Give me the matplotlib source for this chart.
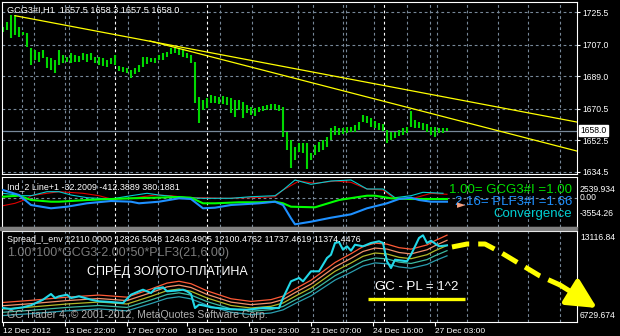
import matplotlib
matplotlib.use("Agg")
import matplotlib.pyplot as plt
import matplotlib.transforms as mtransforms
from matplotlib.patches import Rectangle

# ---------------- data ----------------
title_main = "GCG3#I,H1  1657.5 1658.3 1657.5 1658.0"
price_high = [1717.0, 1719.8, 1723.8, 1723.8, 1717.0, 1714.1, 1713.6, 1705.0, 1703.9, 1702.7,
              1703.9, 1699.9, 1699.3, 1698.2, 1703.9, 1701.0, 1699.9, 1702.2, 1701.0, 1700.5,
              1702.2, 1701.6, 1702.2, 1699.9, 1699.9, 1699.3, 1698.2, 1699.3, 1701.0, 1694.8,
              1694.2, 1693.7, 1692.5, 1693.7, 1695.4, 1699.9, 1699.9, 1699.3, 1699.3, 1701.0,
              1702.2, 1702.7, 1705.0, 1705.0, 1705.0, 1703.9, 1702.2, 1701.0, 1697.1, 1677.2,
              1675.5, 1676.6, 1678.3, 1677.7, 1677.2, 1677.7, 1677.2, 1676.6, 1675.5, 1675.5,
              1674.3, 1672.6, 1671.5, 1670.9, 1671.5, 1672.0, 1672.6, 1673.2, 1673.2, 1672.6,
              1671.5, 1657.3, 1652.6, 1648.7, 1651.0, 1651.0, 1651.0, 1645.3, 1649.9, 1651.5,
              1652.6, 1654.4, 1659.5, 1660.7, 1659.5, 1659.5, 1660.1, 1660.1, 1661.2, 1662.9,
              1666.9, 1666.3, 1665.2, 1663.5, 1662.4, 1661.8, 1658.4, 1657.3, 1657.3, 1658.4,
              1659.5, 1660.1, 1669.2, 1664.1, 1662.9, 1662.4, 1661.8, 1660.1, 1660.1, 1659.5,
              1659.5, 1659.5]
price_low = [1714.1, 1715.3, 1710.7, 1712.4, 1711.3, 1712.4, 1705.6, 1695.4, 1698.2, 1697.1,
             1699.3, 1693.7, 1692.5, 1690.8, 1695.4, 1696.5, 1697.1, 1696.5, 1697.1, 1697.1,
             1698.2, 1697.1, 1698.2, 1696.5, 1695.4, 1694.8, 1694.2, 1695.9, 1695.4, 1691.9,
             1691.4, 1690.8, 1688.0, 1690.2, 1691.4, 1694.2, 1695.9, 1697.1, 1696.5, 1698.2,
             1698.2, 1699.9, 1701.6, 1702.2, 1701.0, 1699.9, 1699.3, 1696.5, 1673.7, 1662.4,
             1669.8, 1670.9, 1673.7, 1673.7, 1673.2, 1673.2, 1672.6, 1668.1, 1665.8, 1669.8,
             1665.2, 1668.1, 1666.9, 1666.3, 1668.6, 1669.2, 1669.8, 1670.3, 1669.8, 1669.2,
             1654.4, 1647.0, 1636.8, 1641.3, 1645.9, 1645.3, 1636.2, 1641.3, 1644.2, 1645.9,
             1647.0, 1648.7, 1652.6, 1655.5, 1655.5, 1656.1, 1656.7, 1657.3, 1657.3, 1658.4,
             1662.9, 1662.4, 1660.1, 1659.5, 1658.4, 1657.8, 1651.0, 1652.6, 1653.8, 1655.0,
             1655.5, 1656.7, 1660.1, 1659.5, 1659.5, 1658.4, 1657.3, 1655.5, 1654.4, 1656.7,
             1656.7, 1657.8]
price_ticks = [1725.5, 1707.0, 1689.0, 1670.5, 1652.5, 1634.5]
last_price = 1658.0

trend1_x = [3, 143.5]
trend1_y = [1723.4, 1662.9]
trend2_x = [36.75, 143.5]
trend2_y = [1709.0, 1646.4]

ind_header = "Ind_2 Line+1 -32.2009 -412.3889 380.1881"
ind_green_x = [0, 4, 7, 12, 14, 21, 27, 32, 38, 44, 47, 50, 53, 59, 64, 68, 70, 72, 78, 84, 91, 93, 97, 102, 107, 111]
ind_green_y = [214, 338, -196, -408, -408, -196, -72, 15, 90, 177, 90, -607, -607, -482, -482, -408, -607,
               -1030, -1104, -196, 338, 338, 15, -72, -72, -72]
ind_blue_x = [0, 4, 7, 12, 16, 21, 27, 32, 34, 39, 44, 47, 50, 53, 57, 64, 68, 70, 72, 73, 77, 82, 87, 91, 96, 99, 102, 104, 107, 111]
ind_blue_y = [1047, 425, -818, -1229, -1030, -607, -321, -408, -607, -408, 15, -72, -1229, -1154, -818,
              -607, -408, -818, -2473, -3219, -2896, -2398, -1975, -1229, -607, -72, 90, -196, -408, -408]
ind_red_x = [0, 3, 6, 7, 11, 14, 20, 24, 27, 32, 38, 42, 46, 50, 56, 62, 68, 70, 74, 78, 83, 87, 91, 95, 98, 102, 107, 111]
ind_red_y = [-905, -607, -72, 338, 637, 836, 637, 338, -72, 15, 425, 338, 90, 90, 15, 90, 214, 1047,
             2167, 1881, 2167, 2005, 1172, 1047, -72, -72, 637, 513]
ind_cyan_x = [0, 5, 7, 11, 14, 17, 21, 27, 32, 36, 39, 43, 46, 50, 57, 62, 68, 70, 73, 77, 82, 87, 91, 95, 98, 102, 105, 110]
ind_cyan_y = [637, 338, 338, 836, 836, 425, 90, -72, 338, 637, 425, 214, 90, 15, 15, 214, 338, 1047,
              2291, 1756, 2167, 2291, 1172, 1172, 90, 338, 761, 637]
ind_max, ind_min = 2539.934, -3554.26

spread_header = ("Spread_I_env 12110.0000 12826.5048 12463.4905 12100.4762 "
                 "11737.4619 11374.4476")
spread_formula = "1.00*100*GCG3-2.00*50*PLF3(21,6.00)"
spread_x = [0, 2, 5, 7, 10, 12, 13, 14, 16, 17, 19, 22, 24, 27, 30, 32, 34, 35, 37, 38, 40, 41, 43, 45,
            46, 47, 48, 49, 50, 52, 57, 61, 65, 69, 70, 72, 74, 75, 77, 79, 81, 82, 83, 84, 85, 86, 87,
            88, 90, 92, 94, 95, 96, 97, 98, 101, 102, 104, 105, 106, 107, 109, 111]
spread_y = [7712, 7642, 7761, 7902, 8295, 8695, 8414, 8533, 8646, 8414, 8533, 8295, 8182, 8133, 8063,
            8646, 8884, 8997, 8765, 9067, 9165, 8884, 8927, 8997, 8884, 8695, 7712, 7944, 7902, 7761,
            7620, 7593, 7712, 7712, 8414, 9586, 9818, 9586, 10288, 10288, 11222, 11453, 12275, 12345,
            11804, 12043, 11734, 12155, 12043, 12275, 12394, 12275, 10990, 10520, 11102, 10990, 11453,
            12625, 12815, 12275, 12436, 12043, 12110]
env_mid_x = [0, 7, 16, 24, 31, 37, 41, 44, 47, 51, 57, 62, 67, 70, 73, 77, 80, 83, 87, 90, 93, 96, 99,
             102, 106, 108, 111]
env_mid_y = [7642, 7782, 7993, 8133, 7993, 8533, 8927, 9046, 8884, 8414, 7888, 7712, 7831, 8063, 8533,
             9116, 9699, 10288, 10871, 11341, 11573, 11503, 11271, 11173, 11453, 11734, 12100]
env_pct = [6, 3, 0, -3, -6]
spread_min, spread_max = 6729.674, 13116.84
forecast_x = [112.25, 116, 120.5, 124.25, 129.25, 134.25, 139.25]
forecast_y = [11994, 12204, 12204, 11643, 10800, 9958, 9327]
forecast_end = (148.5, 7712)

date_pos = [0, 15.5, 31, 46, 61.5, 77, 92.5, 108]
date_labels = ["12 Dec 2012", "13 Dec 22:00", "17 Dec 07:00", "18 Dec 15:00",
               "19 Dec 23:00", "21 Dec 07:00", "24 Dec 16:00", "27 Dec 03:00"]
grid_gray = [4.75, 7.75, 15.5, 16.5, 23.5, 31.25, 38.75, 54.25, 62.25, 73.75, 77.5, 85, 85.75,
             92.75, 101, 106.75, 108.5, 116, 123.75, 131.25, 139.25]
grid_white = [28, 51, 95.25]

# ---------------- figure ----------------
W, H = 620, 336
FONT = ["Liberation Sans", "DejaVu Sans"]
plt.rcParams["font.family"] = FONT
fig = plt.figure(figsize=(W / 100, H / 100), dpi=100, facecolor="black")


def box(x0, y0, x1, y1):
    return [x0 / W, 1 - y1 / H, (x1 - x0) / W, (y1 - y0) / H]


def ftext(x, y, s, **kw):
    kw.setdefault("va", "center")
    kw.setdefault("ha", "left")
    fig.text(x / W, 1 - y / H, s, **kw)


GRIDC = "#778899"
XLIM = (-0.25, 143.5)

ax_m = fig.add_axes(box(2, 2, 577, 174))
ax_i = fig.add_axes(box(2, 177, 577, 227))
ax_s = fig.add_axes(box(2, 231, 577, 322))

for ax in (ax_m, ax_i, ax_s):
    ax.set_facecolor("black")
    ax.set_xlim(*XLIM)
    for sp in ax.spines.values():
        sp.set_color("white")
        sp.set_linewidth(0.8)
    ax.tick_params(left=False, labelleft=False, bottom=False, labelbottom=False)
    for v in grid_gray:
        ax.axvline(v, color=GRIDC, lw=0.8, ls=(0, (2.5, 2.5)), zorder=0)
    for v in grid_white:
        ax.axvline(v, color="white", lw=0.8, ls=(0, (2.5, 2.5)), zorder=0)

# main price panel
ax_m.set_ylim(1633.36, 1731.19)
for t in price_ticks:
    ax_m.axhline(t, color=GRIDC, lw=0.8, ls=(0, (2.5, 2.5)), zorder=0)
ax_m.axhline(last_price, color=GRIDC, lw=0.9, zorder=1)
ax_m.vlines(range(len(price_high)), price_low, price_high, color="#00d800", lw=1.5, zorder=2)
ax_m.plot(trend1_x, trend1_y, color="#ffff00", lw=0.9, zorder=3)
ax_m.plot(trend2_x, trend2_y, color="#ffff00", lw=0.9, zorder=3)
ax_m.yaxis.tick_right()
ax_m.set_yticks(price_ticks)
ax_m.set_yticklabels([f"{t:.1f}" for t in price_ticks])
ax_m.tick_params(axis="y", right=True, labelright=True, direction="out", length=2.5,
                 color="white", labelcolor="white", labelsize=6.2, pad=1.5)
trans = mtransforms.blended_transform_factory(ax_m.transAxes, ax_m.transData)
ax_m.text(1.006, last_price, f"{last_price:.1f}", transform=trans, va="center", ha="left",
          fontsize=6.2, color="black", zorder=5,
          bbox=dict(boxstyle="square,pad=0.15", fc="white", ec="white"))
ftext(7, 10, title_main, color="white", fontsize=6.6)

# indicator panel
ind_top = ind_max + (ind_max - ind_min) / 49.0
ax_i.set_ylim(ind_min, ind_top)
ax_i.axhline(0, color=GRIDC, lw=0.8, ls=(0, (2.5, 2.5)), zorder=0)
ax_i.plot(ind_red_x, ind_red_y, color="#e00000", lw=0.8, zorder=2)
ax_i.plot(ind_cyan_x, ind_cyan_y, color="#00ced1", lw=0.8, zorder=2)
ax_i.plot(ind_green_x, ind_green_y, color="#00ff00", lw=1.5, zorder=3)
ax_i.plot(ind_blue_x, ind_blue_y, color="#1e90ff", lw=1.5, zorder=3)
ftext(7, 187, ind_header, color="white", fontsize=6.4)
ftext(572, 190, "1.00= GCG3#I =1.00", ha="right", color="#00e000", fontsize=9.5)
ftext(572, 202, "2.16= PLF3#I =1.66", ha="right", color="#1e90ff", fontsize=9.5)
ftext(572, 214, "Convergence", ha="right", color="#00ced1", fontsize=9.5)
ftext(457, 205, "\u25ba", color="#f4a080", fontsize=8, family="DejaVu Sans")
ftext(580, 190, f"{ind_max:.3f}", color="white", fontsize=6.2)
ftext(580, 198, "0.00", color="white", fontsize=6.2)
ftext(580, 214, f"{ind_min:.2f}", color="white", fontsize=6.2)

# separator between indicator and spread windows
fig.patches.append(Rectangle((0, 1 - 230 / H), 577 / W, 3 / H, transform=fig.transFigure,
                             color="#808080", zorder=5))

# spread panel
ax_s.set_ylim(spread_min, spread_max)
env_colors = ["#ff5a36", "#f0906a", "#b0b828", "#3cb8a0", "#2a9eb0"]
for p, c in zip(env_pct, env_colors):
    ax_s.plot(env_mid_x, [m * (1 + p / 100.0) for m in env_mid_y], color=c, lw=0.9, zorder=2)
ax_s.plot(spread_x, spread_y, color="#22d8e8", lw=1.5, zorder=3)
ax_s.plot(forecast_x, forecast_y, color="#ffff00", lw=3.6, ls=(0, (3.5, 1.8)),
          solid_capstyle="butt", clip_on=False, zorder=4)
ax_s.annotate("", xy=forecast_end, xytext=(forecast_x[-1], forecast_y[-1]),
              arrowprops=dict(arrowstyle="-|>,head_length=1.0,head_width=0.5", color="#ffff00",
                              lw=3.6, mutation_scale=18, shrinkA=0, shrinkB=0),
              annotation_clip=False, zorder=4)
ax_s.set_xticks(date_pos)
ax_s.set_xticklabels(date_labels, ha="left")
ax_s.tick_params(axis="x", bottom=True, labelbottom=True, direction="out", length=3,
                 color="white", labelcolor="white", labelsize=6, pad=1)
ftext(7, 240, spread_header, color="white", fontsize=6.4)
ftext(7, 253, spread_formula, color="#7c7c7c", fontsize=9)
ftext(87, 272, "СПРЕД ЗОЛОТО-ПЛАТИНА", color="white", fontsize=9)
ftext(7, 315, "GC Trader 4, \u00a9 2001-2012, MetaQuotes Software Corp.", color="#b0b0b0",
      fontsize=7.6)
ftext(375, 287, "GC - PL = 1^2", color="white", fontsize=9.5)
ax_s.plot([0.637, 0.805], [0.253, 0.253], transform=ax_s.transAxes, color="#ffff00", lw=2.4,
          solid_capstyle="butt", zorder=4)
ftext(580, 237, "13116.84", color="white", fontsize=6.2)
ftext(580, 316, "6729.674", color="white", fontsize=6.2)

fig.savefig("out.png", dpi=100, facecolor="black")
